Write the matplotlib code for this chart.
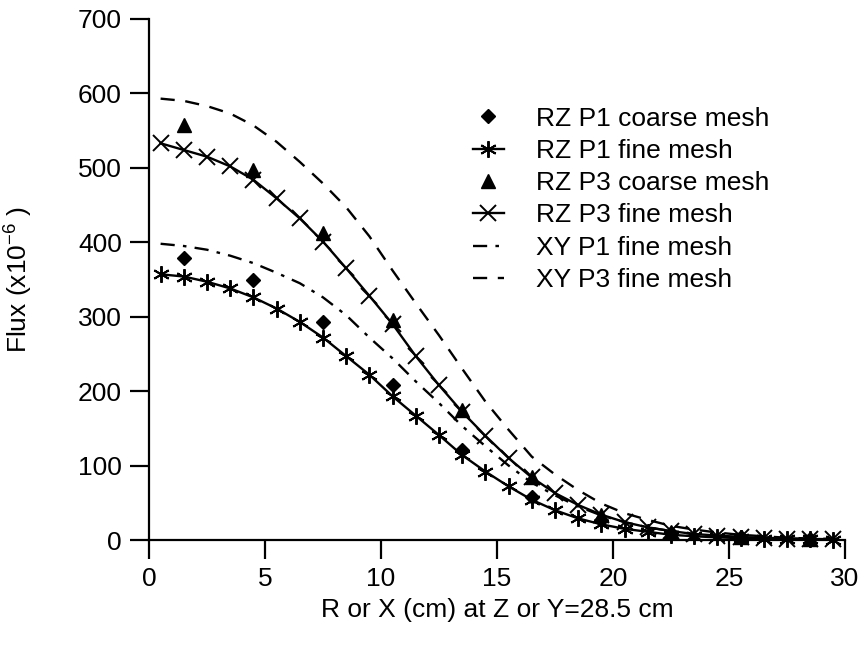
import numpy as np
import matplotlib
matplotlib.use('Agg')
import matplotlib.pyplot as plt

plt.rcParams['font.family'] = ['Liberation Sans', 'DejaVu Sans']
plt.rcParams['mathtext.fontset'] = 'custom'
plt.rcParams['mathtext.rm'] = 'Liberation Sans'

# fine mesh positions (cm)
x_fine = [0.5, 1.5, 2.5, 3.5, 4.5, 5.5, 6.5, 7.5, 8.5, 9.5,
          10.5, 11.5, 12.5, 13.5, 14.5, 15.5, 16.5, 17.5, 18.5, 19.5,
          20.5, 21.5, 22.5, 23.5, 24.5, 25.5, 26.5, 27.5, 28.5, 29.5]
# coarse mesh positions (cm)
x_coarse = [1.5, 4.5, 7.5, 10.5, 13.5, 16.5, 19.5, 22.5, 25.5, 28.5]

rz_p1_coarse = [379, 349, 293, 208, 121, 58, 27, 9, 4.5, 2]
rz_p1_fine = [357, 354, 347, 338, 326, 311, 293, 272, 247, 222,
              193, 167, 141, 114, 92, 72, 54, 40, 29, 21,
              15, 11, 7, 5, 3.5, 2.5, 2, 1.5, 1, 0.5]
rz_p3_coarse = [558, 497, 412, 295, 175, 84, 33, 11, 4, 2]
rz_p3_fine = [533, 524, 515, 502, 484, 459, 432, 401, 365, 328,
              290, 247, 208, 172, 140, 110, 84, 63, 47, 34,
              24, 17, 12, 8, 6, 4, 3, 2, 1.5, 1]
xy_p1_fine = [398, 395, 390, 382, 372, 359, 345, 326, 302, 272,
              244, 213, 184, 153, 126, 100, 77, 60, 45, 33,
              24, 17, 12, 8, 5, 4, 3, 2, 1, 1]
xy_p3_fine = [593, 590, 583, 573, 557, 535, 508, 479, 447, 408,
              362, 318, 275, 230, 186, 148, 112, 88, 67, 49,
              36, 27, 19, 14, 10, 7, 5, 3, 2, 1.5]

asterisk = (6, 2, 0)

fig = plt.figure(figsize=(8.61, 6.52), dpi=100)
ax = fig.add_axes([149/861, 1-540/652, 696/861, 521/652])

ax.plot(x_coarse, rz_p1_coarse, ls='none', marker='D', ms=7.5, color='k',
        label='RZ P1 coarse mesh', clip_on=False, zorder=4)
ax.plot(x_fine, rz_p1_fine, '-', color='k', lw=1.7, marker=asterisk, ms=12,
        mew=1.4, label='RZ P1 fine mesh', clip_on=False, zorder=3)
ax.plot(x_coarse, rz_p3_coarse, ls='none', marker='^', ms=10.5, color='k',
        label='RZ P3 coarse mesh', clip_on=False, zorder=4)
ax.plot(x_fine, rz_p3_fine, '-', color='k', lw=1.7, marker='x', ms=11,
        mew=1.4, label='RZ P3 fine mesh', clip_on=False, zorder=3)
ax.plot(x_fine, xy_p1_fine, color='k', lw=1.7, dashes=(6, 3.5, 1.5, 3.5),
        label='XY P1 fine mesh', zorder=2)
ax.plot(x_fine, xy_p3_fine, color='k', lw=1.7, dashes=(6, 4.5),
        label='XY P3 fine mesh', zorder=2)

ax.set_xlim(0, 30)
ax.set_ylim(0, 700)
ax.set_xticks(np.arange(0, 31, 5))
ax.set_yticks(np.arange(0, 701, 100))

for s in ['top', 'right']:
    ax.spines[s].set_visible(False)
for s in ['left', 'bottom']:
    ax.spines[s].set_linewidth(1.6)
ax.tick_params(direction='out', length=13.5, width=1.6, labelsize=19, pad=6)

ax.set_xlabel('R or X (cm) at Z or Y=28.5 cm', fontsize=19)
ax.set_ylabel(r'Flux (x10$^{\mathregular{-6}}$ )', fontsize=19)
ax.xaxis.set_label_coords(0.5, -0.111)
ax.yaxis.set_label_coords(-0.165, 0.5)

ax.legend(loc='upper left', bbox_to_anchor=(0.465, 0.832), frameon=False,
          fontsize=19, handlelength=1.2, handletextpad=1.2,
          labelspacing=0.315, borderpad=0, borderaxespad=0)

fig.savefig('out.png', dpi=100)
